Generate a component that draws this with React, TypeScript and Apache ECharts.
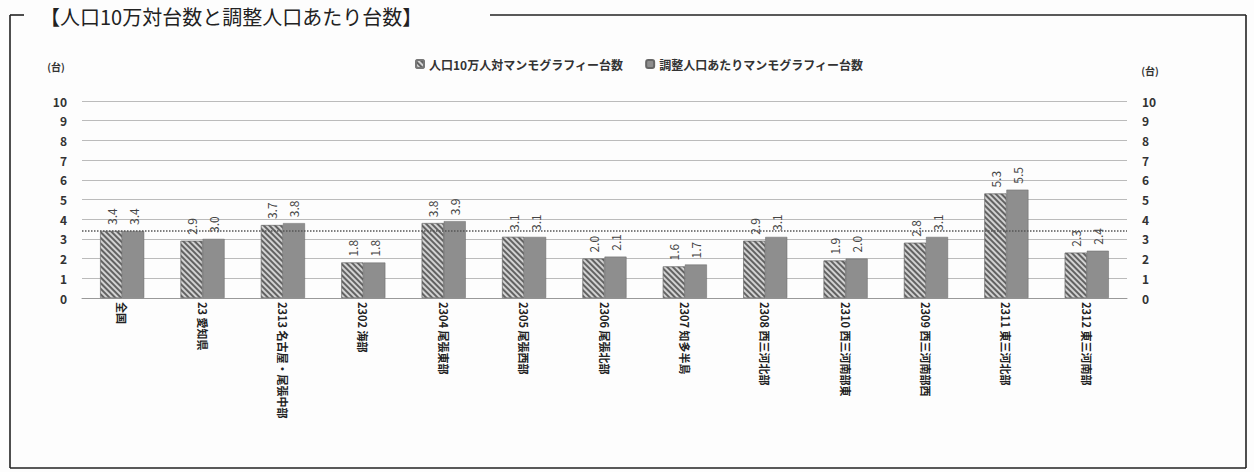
import React, { useEffect, useRef } from "react";
import * as echarts from "echarts";

const categories = [
  "全国",
  "23 愛知県",
  "2313 名古屋・尾張中部",
  "2302 海部",
  "2304 尾張東部",
  "2305 尾張西部",
  "2306 尾張北部",
  "2307 知多半島",
  "2308 西三河北部",
  "2310 西三河南部東",
  "2309 西三河南部西",
  "2311 東三河北部",
  "2312 東三河南部",
];
const per100k = [3.4, 2.9, 3.7, 1.8, 3.8, 3.1, 2.0, 1.6, 2.9, 1.9, 2.8, 5.3, 2.3];
const adjusted = [3.4, 3.0, 3.8, 1.8, 3.9, 3.1, 2.1, 1.7, 3.1, 2.0, 3.1, 5.5, 2.4];
const seriesNames = ["人口10万人対マンモグラフィー台数", "調整人口あたりマンモグラフィー台数"];
const titleText = "【人口10万対台数と調整人口あたり台数】";
const unitText = "(台)";
const nationalLine = per100k[0];

const FONT = "'Noto Sans CJK JP', 'Noto Sans', sans-serif";

export default function App() {
  const ref = useRef<HTMLDivElement>(null);
  useEffect(() => {
    if (!ref.current) return;
    const chart = echarts.init(ref.current, undefined, { renderer: "svg" });
    const labelCommon = {
      show: true,
      position: "top" as const,
      rotate: 90,
      align: "left" as const,
      verticalAlign: "middle" as const,
      distance: 6,
      fontSize: 12,
      color: "#444",
      fontFamily: FONT,
      formatter: (p: any) => Number(p.value).toFixed(1),
    };
    const frameStyle = { stroke: "#222", lineWidth: 1.6 };
    chart.setOption({
      animation: false,
      backgroundColor: "#fdfdfd",
      textStyle: { fontFamily: FONT },
      legend: {
        top: 53,
        left: 410,
        itemWidth: 8,
        itemHeight: 8,
        itemGap: 22,
        textStyle: { fontSize: 12, fontWeight: "bold", color: "#333", fontFamily: FONT },
        data: seriesNames,
      },
      grid: { left: 82, right: 127, top: 101, bottom: 174 },
      xAxis: {
        type: "category",
        data: categories,
        axisLine: { show: true, lineStyle: { color: "#999" } },
        axisTick: { show: false },
        axisLabel: {
          rotate: -90,
          interval: 0,
          fontSize: 11,
          fontWeight: "bold",
          color: "#222",
          margin: 4,
          fontFamily: FONT,
        },
      },
      yAxis: [
        {
          type: "value",
          min: 0,
          max: 10,
          interval: 1,
          position: "left",
          axisLine: { show: false },
          axisTick: { show: false },
          axisLabel: { fontSize: 12, fontWeight: "bold", color: "#333", margin: 15, fontFamily: FONT },
          splitLine: { lineStyle: { color: "#bbb", width: 1 } },
        },
        {
          type: "value",
          min: 0,
          max: 10,
          interval: 1,
          position: "right",
          axisLine: { show: false },
          axisTick: { show: false },
          axisLabel: { fontSize: 12, fontWeight: "bold", color: "#333", margin: 15, fontFamily: FONT },
          splitLine: { show: false },
        },
      ],
      series: [
        {
          name: seriesNames[0],
          type: "bar",
          data: per100k,
          barWidth: 22,
          barGap: "0%",
          itemStyle: {
            color: "#d2d2d2",
            borderColor: "#777",
            borderWidth: 0.5,
            decal: {
              symbol: "rect",
              symbolSize: 1,
              color: "rgba(60,60,60,0.75)",
              dashArrayX: [1, 0],
              dashArrayY: [2, 2],
              rotation: Math.PI / 4,
            },
          },
          label: labelCommon,
          markLine: {
            silent: true,
            symbol: "none",
            label: { show: false },
            lineStyle: { type: "dotted", color: "#555", width: 1.5 },
            data: [{ yAxis: nationalLine }],
          },
        },
        {
          name: seriesNames[1],
          type: "bar",
          data: adjusted,
          barWidth: 22,
          itemStyle: { color: "#8e8e8e", borderColor: "#666", borderWidth: 0.5 },
          label: labelCommon,
        },
      ],
      graphic: [
        {
          type: "text",
          left: 40,
          top: 6,
          style: { text: titleText, fontSize: 20, fill: "#222", fontFamily: "'Noto Sans CJK JP', serif" },
        },
        { type: "line", shape: { x1: 10, y1: 15, x2: 24, y2: 15 }, style: frameStyle },
        { type: "line", shape: { x1: 490, y1: 15, x2: 1246, y2: 15 }, style: frameStyle },
        { type: "line", shape: { x1: 10, y1: 15, x2: 10, y2: 468 }, style: frameStyle },
        { type: "line", shape: { x1: 1246, y1: 15, x2: 1246, y2: 468 }, style: frameStyle },
        { type: "line", shape: { x1: 10, y1: 468, x2: 1246, y2: 468 }, style: frameStyle },
        {
          type: "text",
          x: 56,
          y: 66,
          style: { text: unitText, fontSize: 10, fontWeight: "bold", fill: "#333", align: "center", verticalAlign: "middle", fontFamily: FONT },
        },
        {
          type: "text",
          x: 1150,
          y: 70,
          style: { text: unitText, fontSize: 10, fontWeight: "bold", fill: "#333", align: "center", verticalAlign: "middle", fontFamily: FONT },
        },
      ],
    });
    return () => chart.dispose();
  }, []);
  return (
    <div
      ref={ref}
      style={{ position: "fixed", left: 0, top: 0, width: 1254, height: 472 }}
    />
  );
}
